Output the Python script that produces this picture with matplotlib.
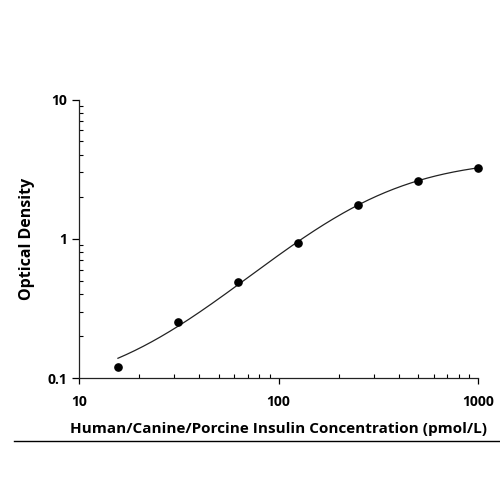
import numpy as np
import matplotlib
matplotlib.use("Agg")
import matplotlib.pyplot as plt
from matplotlib.lines import Line2D
from matplotlib.ticker import FixedLocator, NullFormatter, FixedFormatter

# Data
conc = [15.625, 31.25, 62.5, 125, 250, 500, 1000]
od = [0.119, 0.251, 0.491, 0.927, 1.75, 2.61, 3.23]

x_ticks = [10, 100, 1000]
x_tick_labels = ["10", "100", "1000"]
y_ticks = [0.1, 1, 10]
y_tick_labels = ["0.1", "1", "10"]
x_label = "Human/Canine/Porcine Insulin Concentration (pmol/L)"
y_label = "Optical Density"

plt.rcParams['font.family'] = ['Open Sans', 'DejaVu Sans']

# Four-parameter logistic fit of the data (least squares, grid search over B, C)
xa = np.array(conc, dtype=float)
ya = np.array(od, dtype=float)
best = None
for B in np.linspace(0.5, 3.0, 251):
    for lC in np.linspace(1.0, 4.0, 301):
        C = 10 ** lC
        g = 1.0 / (1.0 + (xa / C) ** B)
        M = np.column_stack([g, 1 - g])
        coef, *_ = np.linalg.lstsq(M, ya, rcond=None)
        sse = np.sum((M @ coef - ya) ** 2)
        if best is None or sse < best[0]:
            best = (sse, B, C, coef[0], coef[1])
_, B, C, A, D = best
xf = np.logspace(np.log10(xa.min()), np.log10(xa.max()), 300)
yf = D + (A - D) / (1.0 + (xf / C) ** B)

fig = plt.figure(figsize=(5, 5), dpi=100)
ax = fig.add_axes([0.1586, 0.244, 0.7974, 0.557])
ax.set_xscale('log')
ax.set_yscale('log')
ax.plot(xf, yf, color='#222222', lw=0.9)
ax.plot(conc, od, 'o', color='black', ms=5.2, zorder=3, clip_on=False)
ax.set_xlim(10, 1000)
ax.set_ylim(0.1, 10)

for s in ['top', 'right']:
    ax.spines[s].set_visible(False)
for s in ['left', 'bottom']:
    ax.spines[s].set_linewidth(0.9)
    ax.spines[s].set_color('#222222')

ax.xaxis.set_major_locator(FixedLocator(x_ticks))
ax.xaxis.set_major_formatter(FixedFormatter(x_tick_labels))
ax.yaxis.set_major_locator(FixedLocator(y_ticks))
ax.yaxis.set_major_formatter(FixedFormatter(y_tick_labels))
ax.xaxis.set_minor_formatter(NullFormatter())
ax.yaxis.set_minor_formatter(NullFormatter())

ax.tick_params(axis='x', which='major', direction='out', length=4, width=0.9, pad=8,
               labelsize=10)
ax.tick_params(axis='x', which='minor', direction='in', length=3, width=0.8)
ax.tick_params(axis='y', which='major', direction='out', length=5, width=0.9, pad=4,
               labelsize=10)
ax.tick_params(axis='y', which='minor', direction='in', length=3, width=0.8)
for lab in ax.get_xticklabels() + ax.get_yticklabels():
    lab.set_fontweight('bold')

ax.set_xlabel(x_label, fontsize=11, fontweight='bold')
ax.xaxis.set_label_coords(0.5, -0.158)
ax.set_ylabel(y_label, fontsize=11.5, fontweight='bold')
ax.yaxis.set_label_coords(-0.111, 0.5)

fig.add_artist(Line2D([14 / 500, 1.0], [1 - 440.7 / 500] * 2, transform=fig.transFigure,
                      color='black', lw=1.0))

fig.savefig('out.png', dpi=100, facecolor='white')
